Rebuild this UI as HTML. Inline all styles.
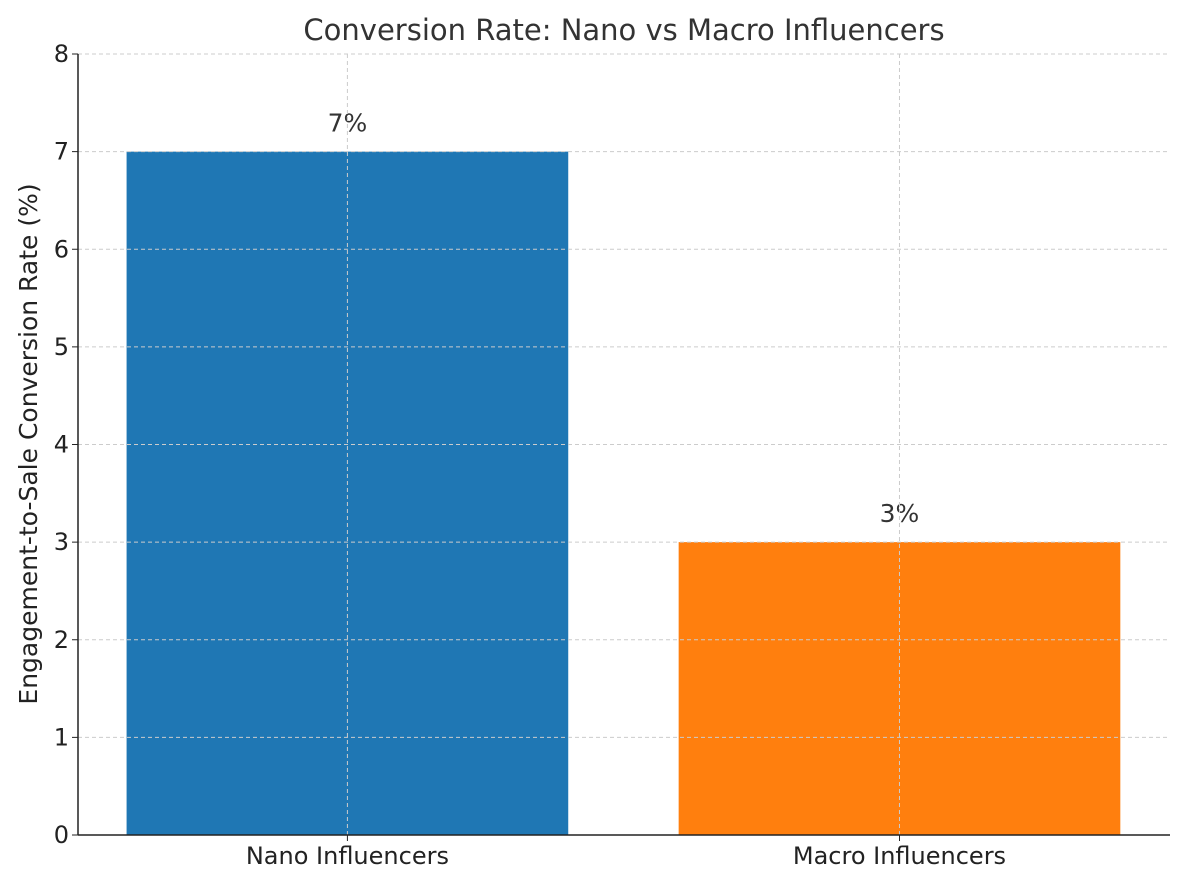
<!DOCTYPE html>
<html><head><meta charset="utf-8"><style>
body{margin:0;background:#fff;}
svg{display:block;font-family:"DejaVu Sans","Liberation Sans",sans-serif;}
</style></head><body>
<svg id="chart" width="1185" height="885">
<text x="624" y="40" text-anchor="middle" font-size="29" fill="#333">Conversion Rate: Nano vs Macro Influencers</text>
<text transform="translate(37,444) rotate(-90)" text-anchor="middle" font-size="25" fill="#222">Engagement-to-Sale Conversion Rate (%)</text>
<g id="grid"></g><g id="bars"></g><g id="axes"></g>
</svg>
<script>
const categories = ["Nano Influencers", "Macro Influencers"];
const values = [7, 3];
const valueLabels = ["7%", "3%"];
const yTicks = [0,1,2,3,4,5,6,7,8];
const colors = ["#1f77b4", "#ff7f0e"];

const L=78,R=1170,T=54,B=835;
const y=v=>B-(v-0)/(8-0)*(B-T);
const x=i=>L+(i+0.488)/(1.49+0.488)*(R-L);
const bw=0.8*(x(1)-x(0));
const NS="http://www.w3.org/2000/svg";
function mk(p,tag,a){const e=document.createElementNS(NS,tag);for(const k in a)e.setAttribute(k,a[k]);p.appendChild(e);return e;}
const grid=document.getElementById('grid'),bars=document.getElementById('bars'),axes=document.getElementById('axes');
yTicks.forEach(t=>{
  const g=mk(grid,'line',{x1:L,x2:R,y1:y(t),y2:y(t),stroke:'#ccc','stroke-dasharray':'4,3','stroke-width':1});
  
  
  const tk=mk(axes,'line',{x1:L-6,x2:L,y1:y(t),y2:y(t),stroke:'#222'});
  
  
  const tl=mk(axes,'text',{x:L-9,y:y(t)+8,'text-anchor':'end','font-size':24,fill:'#222'});
  tl.textContent=t;
  
  
});
categories.forEach((c,i)=>{
  const r=mk(bars,'rect',{x:x(i)-bw/2,y:y(values[i]),width:bw,height:y(0)-y(values[i]),fill:colors[i]});
  
  
  const vl=mk(bars,'text',{x:x(i),y:y(values[i])-20,'text-anchor':'middle','font-size':25,fill:'#333'});
  vl.textContent=valueLabels[i];
  
  
  const g=mk(grid,'line',{x1:x(i),x2:x(i),y1:T,y2:B,stroke:'#ccc','stroke-dasharray':'4,3'});
  
  
  const tk=mk(axes,'line',{x1:x(i),x2:x(i),y1:B,y2:B+6,stroke:'#222'});
  
  
  const tl=mk(axes,'text',{x:x(i),y:B+29,'text-anchor':'middle','font-size':24,fill:'#222'});
  tl.textContent=c;
  
  
});
// move grid lines over bars like matplotlib (grid drawn above)
document.getElementById('chart').appendChild(grid);
document.getElementById('chart').appendChild(axes);
const la=mk(axes,'line',{x1:L,x2:L,y1:T,y2:B,stroke:'#222','stroke-width':1.5});


const ba=mk(axes,'line',{x1:L,x2:R,y1:B,y2:B,stroke:'#222','stroke-width':1.5});


</script>
</body></html>
